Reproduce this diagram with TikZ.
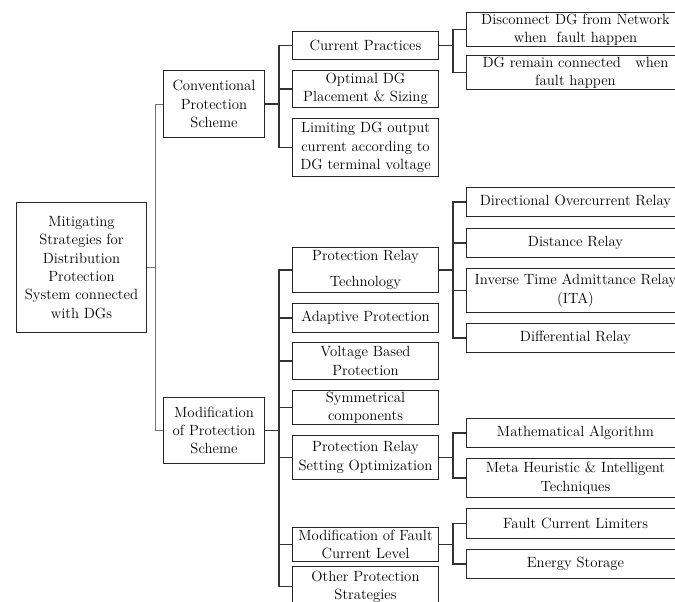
\documentclass[tikz,border=0pt]{standalone}
\begin{document}
\begin{tikzpicture}[x=1pt,y=-1pt,
  box/.style={draw=black!85, line width=1pt, inner sep=0pt, align=center, anchor=north west,
    font=\fontsize{14.8}{18.3}\selectfont},
  link/.style={draw=black!80, line width=1.1pt},
  rootlink/.style={draw=black!55, line width=0.9pt}]
\useasboundingbox (0,0) rectangle (675,602);
\clip (0,0) rectangle (675,602);
% root
\node[box, minimum width=130pt, minimum height=130pt] (root) at (16,202)
  {Mitigating\\Strategies for\\Distribution\\Protection\\System connected\\with DGs};
% level 1
\node[box, minimum width=101pt, minimum height=67pt] (conv) at (163,70)
  {Conventional\\Protection\\Scheme};
\node[box, minimum width=101pt, minimum height=66pt] (mod) at (163,397)
  {Modification\\of Protection\\Scheme};
% level 2 (conventional)
\node[box, minimum width=146pt, minimum height=28pt] (cp) at (292,31) {Current Practices};
\node[box, minimum width=146pt, minimum height=37pt] (opt) at (292,70) {Optimal DG\\Placement \& Sizing};
\node[box, minimum width=146pt, minimum height=58pt] (lim) at (292,118)
  {Limiting DG output\\current according to\\DG terminal voltage};
% level 2 (modification)
\node[box, minimum width=146pt, minimum height=45pt] (prt) at (292,247) {Protection Relay\\[7pt]Technology};
\node[box, minimum width=146pt, minimum height=29pt] (ada) at (292,303) {Adaptive Protection};
\node[box, minimum width=146pt, minimum height=37pt] (vol) at (292,342) {Voltage Based\\Protection};
\node[box, minimum width=146pt, minimum height=34pt] (sym) at (292,390) {Symmetrical\\components};
\node[box, minimum width=146pt, minimum height=44pt] (pso) at (292,435) {Protection Relay\\Setting Optimization};
\node[box, minimum width=146pt, minimum height=34pt] (mfc) at (292,527) {Modification of Fault\\Current Level};
\node[box, minimum width=146pt, minimum height=40pt] (oth) at (292,566) {Other Protection\\Strategies};
% level 3
\node[box, minimum width=218pt, minimum height=34pt] (dis) at (466,12) {Disconnect DG from Network\\when~ fault happen};
\node[box, minimum width=218pt, minimum height=34pt] (rem) at (466,55) {DG remain connected~~ when\\fault happen};
\node[box, minimum width=218pt, minimum height=29pt] (dir) at (466,187) {Directional Overcurrent Relay};
\node[box, minimum width=218pt, minimum height=29pt] (dst) at (466,228) {Distance Relay};
\node[box, minimum width=218pt, minimum height=44pt] (ita) at (466,268) {Inverse Time Admittance Relay\\(ITA)};
\node[box, minimum width=218pt, minimum height=29pt] (dif) at (466,323) {Differential Relay};
\node[box, minimum width=218pt, minimum height=29pt] (mat) at (466,418) {Mathematical Algorithm};
\node[box, minimum width=218pt, minimum height=39pt] (met) at (466,458) {Meta Heuristic \& Intelligent\\Techniques};
\node[box, minimum width=218pt, minimum height=30pt] (fcl) at (466,508) {Fault Current Limiters};
\node[box, minimum width=218pt, minimum height=29pt] (ens) at (466,549) {Energy Storage};
% connectors
\foreach \c in {conv,mod} \draw[rootlink] (root.east) -- ++(8,0) |- (\c.west);
\foreach \c in {cp,opt,lim} \draw[link] (conv.east) -- ++(14,0) |- (\c.west);
\foreach \c in {prt,ada,vol,sym,pso,mfc,oth} \draw[link] (mod.east) -- ++(14,0) |- (\c.west);
\foreach \c in {dis,rem} \draw[link] (cp.east) -- ++(14,0) |- (\c.west);
\foreach \c in {dir,dst,ita,dif} \draw[link] (prt.east) -- ++(14,0) |- (\c.west);
\foreach \c in {mat,met} \draw[link] (pso.east) -- ++(14,0) |- (\c.west);
\foreach \c in {fcl,ens} \draw[link] (mfc.east) -- ++(14,0) |- (\c.west);
\end{tikzpicture}
\end{document}
